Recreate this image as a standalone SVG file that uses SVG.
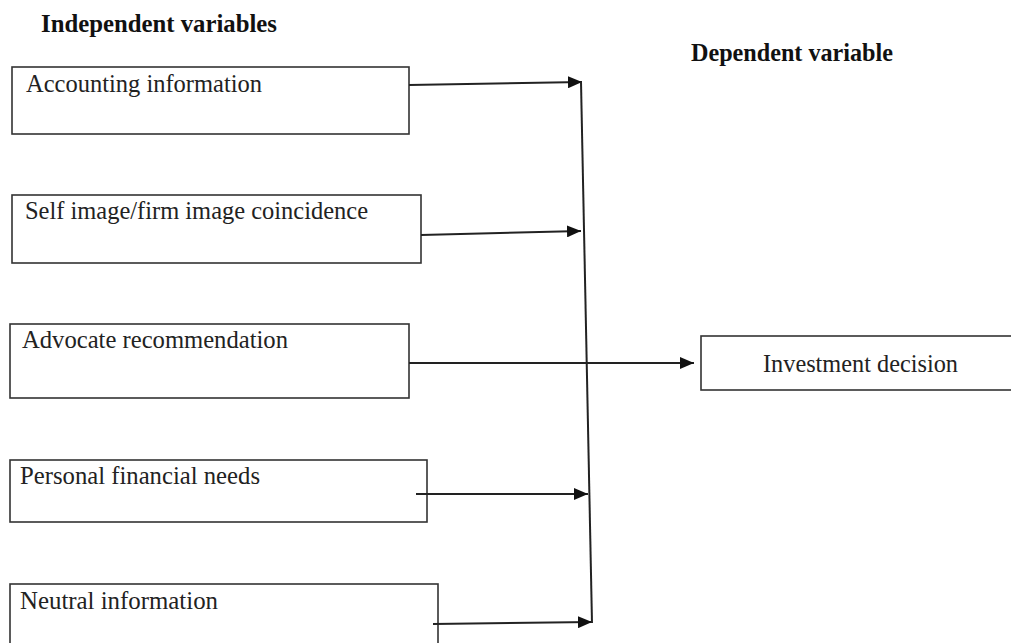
<svg xmlns="http://www.w3.org/2000/svg" width="1011" height="643" viewBox="0 0 1011 643">
<defs>
<marker id="arr" markerWidth="14" markerHeight="12" refX="14" refY="6" orient="auto" markerUnits="userSpaceOnUse">
<path d="M0,0 L14,6 L0,12 Z" fill="#111"/>
</marker>
<style>
.box{fill:#fff;stroke:#333;stroke-width:1.6}
.lbl{font-family:"Liberation Serif","Times New Roman",serif;font-size:25px;fill:#222}
.ttl{font-family:"Liberation Serif","Times New Roman",serif;font-size:25px;font-weight:bold;fill:#111}
.con{fill:none;stroke:#222;stroke-width:2}
</style>
</defs>
<rect width="1011" height="643" fill="#fff"/>
<text class="ttl" x="41" y="32" textLength="236" lengthAdjust="spacingAndGlyphs">Independent variables</text>
<text class="ttl" x="691" y="61" textLength="202" lengthAdjust="spacingAndGlyphs">Dependent variable</text>
<g id="n1"><rect class="box" x="12" y="67" width="397" height="67"/><text class="lbl" x="26" y="92" textLength="236" lengthAdjust="spacingAndGlyphs">Accounting information</text></g>
<g id="n2"><rect class="box" x="12" y="195" width="409" height="68"/><text class="lbl" x="25" y="219" textLength="343" lengthAdjust="spacingAndGlyphs">Self image/firm image coincidence</text></g>
<g id="n3"><rect class="box" x="10" y="324" width="399" height="74"/><text class="lbl" x="22" y="348" textLength="266" lengthAdjust="spacingAndGlyphs">Advocate recommendation</text></g>
<g id="n4"><rect class="box" x="10" y="460" width="417" height="62"/><text class="lbl" x="20" y="484" textLength="240" lengthAdjust="spacingAndGlyphs">Personal financial needs</text></g>
<g id="n5"><rect class="box" x="10" y="584" width="428" height="70"/><text class="lbl" x="20" y="609" textLength="198" lengthAdjust="spacingAndGlyphs">Neutral information</text></g>
<g id="n6"><rect class="box" x="701" y="336" width="320" height="54"/><text class="lbl" x="763" y="372" textLength="195" lengthAdjust="spacingAndGlyphs">Investment decision</text></g>
<g id="connectors">
<line class="con" x1="409" y1="85" x2="582" y2="82" marker-end="url(#arr)"/>
<line class="con" x1="421" y1="235" x2="581" y2="231" marker-end="url(#arr)"/>
<line class="con" x1="409" y1="363" x2="694" y2="363" marker-end="url(#arr)"/>
<line class="con" x1="416" y1="494" x2="588" y2="494" marker-end="url(#arr)"/>
<line class="con" x1="433" y1="624" x2="592" y2="622" marker-end="url(#arr)"/>
<line class="con" x1="581" y1="82" x2="592" y2="623"/>
</g>
</svg>
